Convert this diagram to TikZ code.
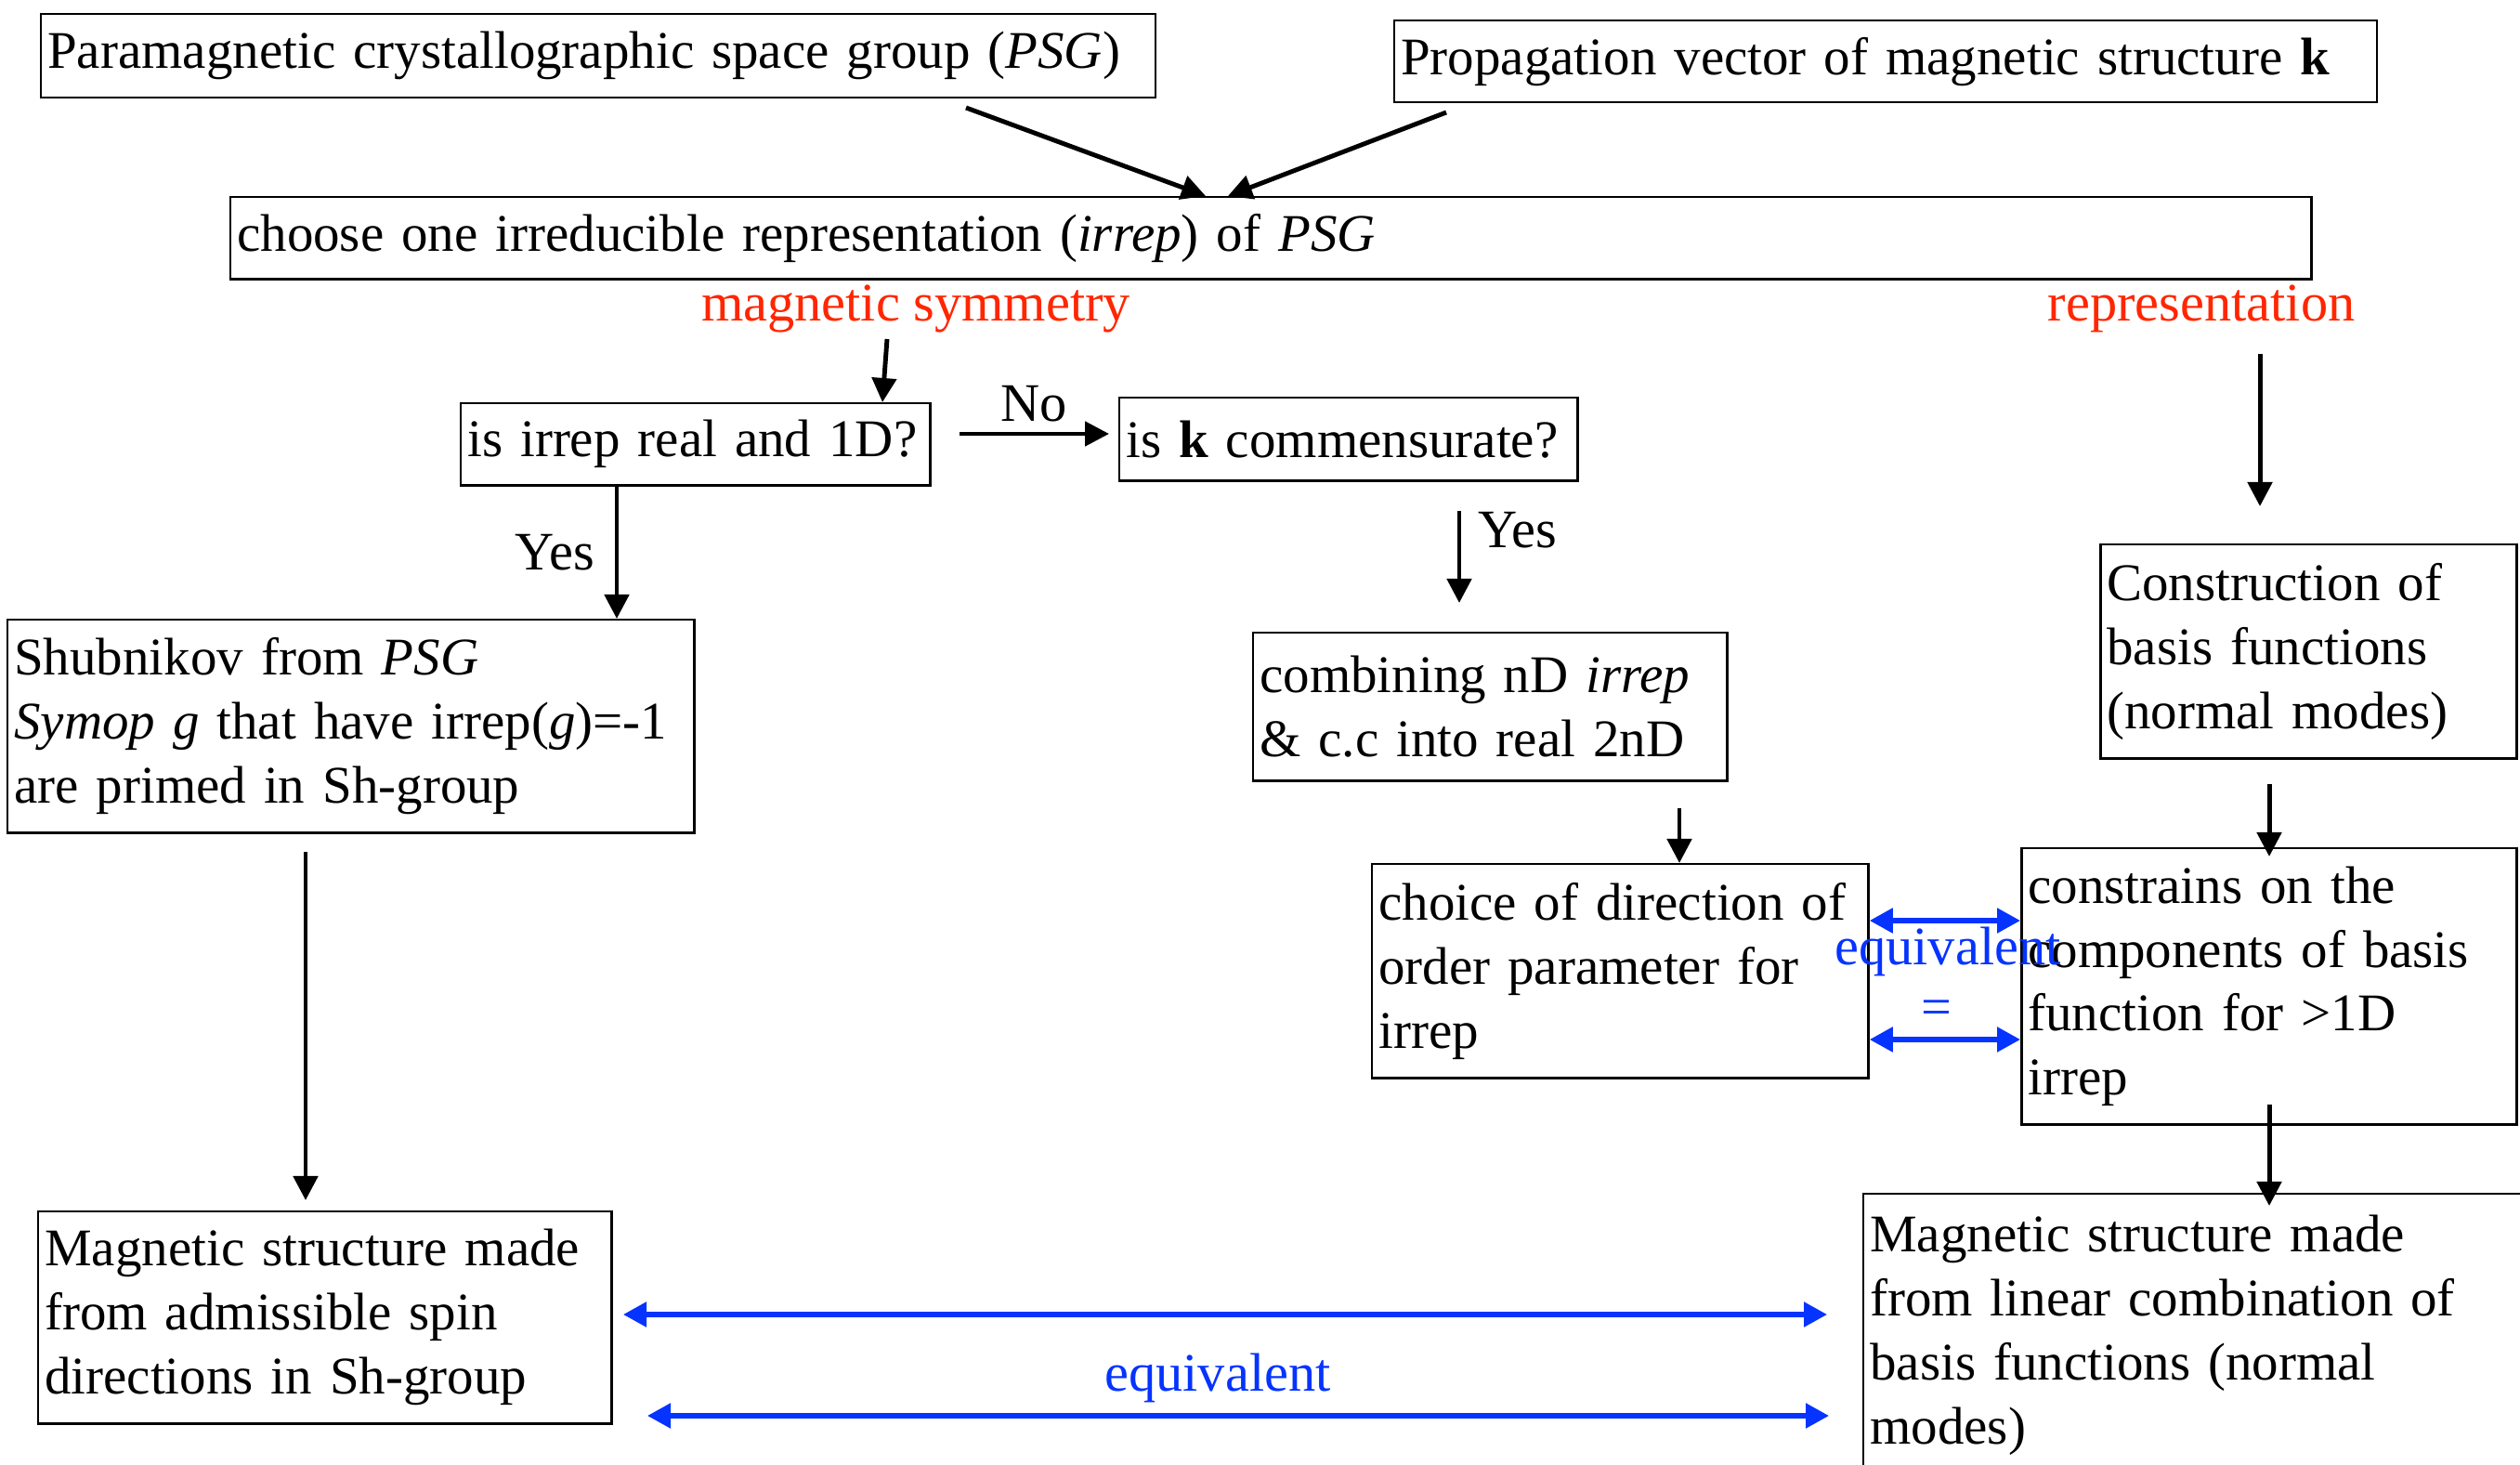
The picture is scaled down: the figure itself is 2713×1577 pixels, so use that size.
\documentclass[tikz,border=0pt]{standalone}
\usepackage{fontspec}
\setmainfont{Liberation Serif}
\usetikzlibrary{arrows.meta}
\definecolor{symred}{RGB}{255,38,0}
\definecolor{eqblue}{RGB}{5,51,255}

\begin{document}
\begin{tikzpicture}[x=0.01cm, y=-0.01cm,
    block/.style={draw, line width=0.7pt, anchor=north west, align=left,
      inner xsep=0.07cm, inner ysep=0pt, text width=#1,
      font=\fontsize{16.2}{19.6}\selectfont},
    lbl/.style={font=\fontsize{16.6}{19.6}\selectfont},
    arr/.style={-{Triangle[length=0.26cm,width=0.26cm]}, line width=1.4pt},
    equiv/.style={{Triangle[length=0.25cm,width=0.26cm]}-{Triangle[length=0.25cm,width=0.26cm]}, eqblue, line width=1.5pt}]
    \useasboundingbox (0,0) rectangle (2713,1577);

    % top row
    \node[block=11.85cm, minimum height=0.90cm] (psg) at (43,14) {Paramagnetic crystallographic space group (\textit{PSG})};
    \node[block=10.43cm, minimum height=0.88cm] (kvec) at (1500,21) {Propagation vector of magnetic structure \textbf{k}};
    \node[block=22.25cm, minimum height=0.88cm] (irrep) at (247,211) {choose one irreducible representation (\textit{irrep}) of \textit{PSG}};
    \node[lbl, symred] (msym) at (986,332) {magnetic symmetry};
    \node[lbl, symred] (repr) at (2370,332) {representation};

    % questions
    \node[block=4.91cm, minimum height=0.88cm] (isreal) at (495,433) {is irrep real and 1D?};
    \node[block=4.79cm, minimum height=0.89cm] (iscomm) at (1204,427) {is \textbf{k} commensurate?};

    % middle boxes
    \node[block=7.25cm, minimum height=2.29cm] (shub) at (7,666) {Shubnikov from \textit{PSG}\\ \textit{Symop g} that have irrep(\textit{g})=-1\\ are primed in Sh-group};
    \node[block=4.96cm, minimum height=1.59cm] (comb) at (1348,680) {combining nD \textit{irrep}\\ \& c.c into real 2nD};
    \node[block=4.34cm, minimum height=2.30cm] (basis) at (2260,585) {Construction of\\ basis functions\\ (normal modes)};
    \node[block=5.20cm, minimum height=2.30cm] (choice) at (1476,929) {choice of direction of\\ order parameter for\\ irrep};
    \node[block=5.19cm, minimum height=2.97cm] (constr) at (2175,912) {constrains on the\\ components of basis\\ function for >1D\\ irrep};

    % results
    \node[block=6.03cm, minimum height=2.28cm] (magl) at (40,1303) {Magnetic structure made\\ from admissible spin\\ directions in Sh-group};
    \node[block=7.36cm, minimum height=3.04cm] (magr) at (2005,1284) {Magnetic structure made\\ from linear combination of\\ basis functions (normal\\ modes)};

    % free ends
    \coordinate (psgtail) at (1040,116);
    \coordinate (ktail) at (1557,121);
    \coordinate (msymtail) at (955,365);
    \coordinate (notail) at (1033,467);
    \coordinate (nohead) at (1194,467);
    \coordinate (commtail) at (1571,550);
    \coordinate (commhead) at (1571,649);
    \coordinate (combtail) at (1808,870);
    \coordinate (reprtail) at (2433,381);
    \coordinate (reprhead) at (2433,545);
    \coordinate (basistail) at (2443,844);
    \coordinate (constrtail) at (2443,1189);
    \coordinate (shubtail) at (329,917);

    \draw[arr] (psgtail) -- (irrep.north -| 1298,0);
    \draw[arr] (ktail) -- (irrep.north -| 1322,0);
    \draw[arr] (msymtail) -- (isreal.north -| 950,0);
    \draw[arr] (notail) -- (nohead) node[lbl, midway, above, inner sep=3pt] {No};
    \draw[arr] (isreal.south -| 664,0) -- (shub.north -| 664,0) node[lbl, midway, left=0.1cm] {Yes};
    \draw[arr] (commtail) -- (commhead) node[lbl, pos=0.21, right=0.06cm] {Yes};
    \draw[arr] (combtail) -- (choice.north -| combtail);
    \draw[arr] (reprtail) -- (reprhead);
    \draw[arr] (basistail) -- ([yshift=-0.1cm]constr.north -| basistail);
    \draw[arr] (constrtail) -- ([yshift=-0.14cm]magr.north -| constrtail);
    \draw[arr] (shubtail) -- ([yshift=0.11cm]magl.north -| shubtail);

    % equivalences
    \draw[equiv] (choice.east |- 0,991) -- (constr.west |- 0,991);
    \draw[equiv] (choice.east |- 0,1119) -- (constr.west |- 0,1119);
    \node[lbl, eqblue] (eqtop) at (2097,1024) {equivalent};
    \node[lbl, eqblue] (eqsign) at (2085,1090) {=};
    \draw[equiv] (671,1415) -- (1967,1415);
    \draw[equiv] (697,1524) -- (1969,1524);
    \node[lbl, eqblue] (eqbot) at (1311,1483) {equivalent};
\end{tikzpicture}
\end{document}
